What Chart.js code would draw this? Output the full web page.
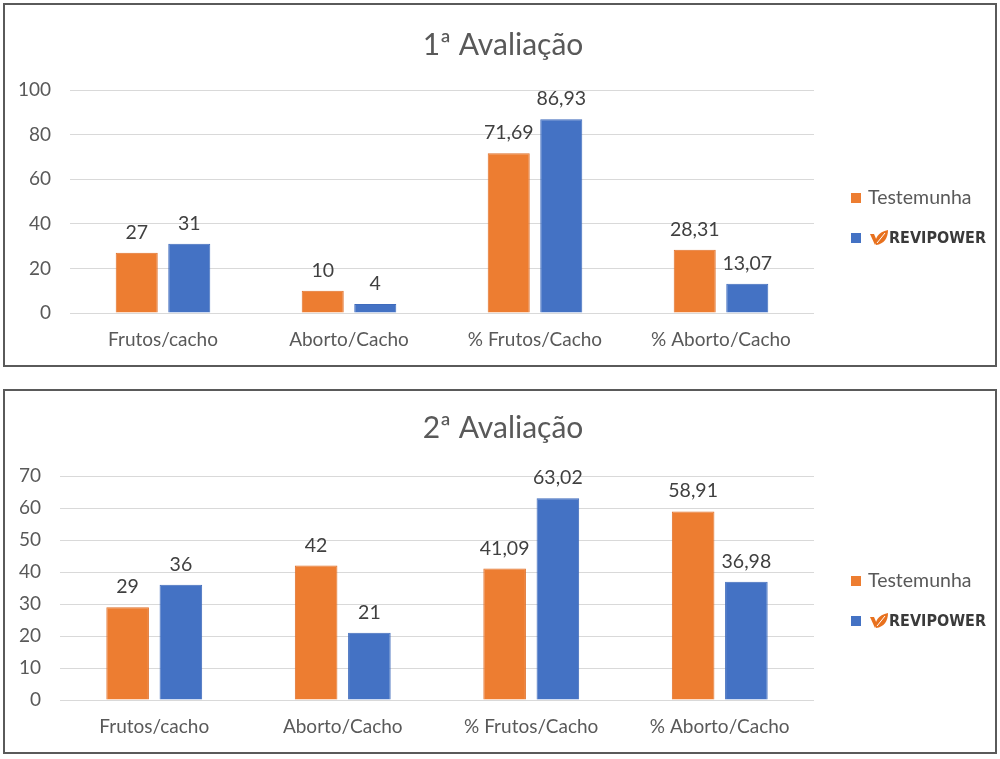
<!DOCTYPE html>
<html>
<head>
<meta charset="utf-8">
<script src="https://cdn.jsdelivr.net/npm/chart.js@4"></script>
<style>
  html,body{margin:0;padding:0;background:#fff;}
  body{width:1000px;height:759px;position:relative;overflow:hidden;font-family:Lato,"Open Sans",sans-serif;}
  .box{position:absolute;left:3px;width:990px;border:2px solid #5a5a5a;background:#fff;}
  #b1{top:3px;height:360px;}
  #b2{top:389px;height:361px;}
  .box canvas{display:block;}
</style>
</head>
<body>
<div class="box" id="b1"><canvas id="c1"></canvas></div>
<div class="box" id="b2"><canvas id="c2"></canvas></div>
<script>
// ---- data ----
const categories = ["Frutos/cacho", "Aborto/Cacho", "% Frutos/Cacho", "% Aborto/Cacho"];
const seriesNames = ["Testemunha", "REVIPOWER"];
const title1 = "1ª Avaliação";
const testemunha1 = [27, 10, 71.69, 28.31];
const revipower1 = [31, 4, 86.93, 13.07];
const yTicks1 = [0, 20, 40, 60, 80, 100];
const title2 = "2ª Avaliação";
const testemunha2 = [29, 42, 41.09, 58.91];
const revipower2 = [36, 21, 63.02, 36.98];
const yTicks2 = [0, 10, 20, 30, 40, 50, 60, 70];

const ORANGE = "#ED7D31", BLUE = "#4472C4", TXT = "#595959", LBL = "#404040";
const FONT = "Lato, 'Open Sans', sans-serif";

function fmt(v){ return String(v).replace('.', ','); }

const valueLabels = {
  id: 'valueLabels',
  afterDatasetsDraw(chart){
    const ctx = chart.ctx;
    ctx.save();
    ctx.font = "19.5px " + FONT;
    ctx.fillStyle = LBL;
    ctx.textAlign = 'center';
    ctx.textBaseline = 'alphabetic';
    chart.data.datasets.forEach((ds, i) => {
      chart.getDatasetMeta(i).data.forEach((bar, j) => {
        ctx.fillText(fmt(ds.data[j]), bar.x, bar.y - 14);
      });
    });
    ctx.restore();
  }
};

const centeredTitle = {
  id: 'centeredTitle',
  afterDraw(chart, args, opts){
    const ctx = chart.ctx;
    ctx.save();
    ctx.font = "30px " + FONT;
    ctx.fillStyle = TXT;
    ctx.textAlign = 'center';
    ctx.textBaseline = 'middle';
    ctx.fillText(opts.text, chart.width / 2 + 3, opts.y);
    ctx.restore();
  }
};

function drawLeaf(ctx, x, y){
  ctx.save();
  ctx.fillStyle = "#E8711E";
  ctx.beginPath();
  ctx.moveTo(x, y - 4);
  ctx.lineTo(x + 4, y - 4);
  ctx.lineTo(x + 7, y + 3);
  ctx.lineTo(x + 5, y + 7);
  ctx.closePath();
  ctx.fill();
  ctx.beginPath();
  ctx.moveTo(x + 6, y + 7);
  ctx.bezierCurveTo(x + 4, y + 1, x + 8, y - 6, x + 18, y - 8);
  ctx.bezierCurveTo(x + 18, y, x + 14, y + 6, x + 6, y + 7);
  ctx.closePath();
  ctx.fill();
  ctx.strokeStyle = "#fff";
  ctx.lineWidth = 1;
  ctx.beginPath();
  ctx.moveTo(x + 7, y + 5);
  ctx.lineTo(x + 15, y - 5);
  ctx.stroke();
  ctx.restore();
}

const customLegend = {
  id: 'customLegend',
  afterDraw(chart, args, opts){
    const ctx = chart.ctx;
    const x0 = chart.chartArea.right + 37;
    const yc = opts.yCenter;
    chart.data.datasets.forEach((ds, i) => {
      const y = yc + (i === 0 ? -20 : 20);
      ctx.save();
      ctx.fillStyle = ds.backgroundColor;
      ctx.fillRect(x0, y - 5, 10, 10);
      if (i === 0) {
        ctx.font = "19.5px " + FONT;
        ctx.fillStyle = TXT;
        ctx.textBaseline = 'middle';
        ctx.fillText(ds.label, x0 + 17, y);
      } else {
        drawLeaf(ctx, x0 + 19, y);
        ctx.font = "bold 16px 'Liberation Sans Narrow', 'DejaVu Sans Condensed', sans-serif";
        ctx.fillStyle = "#3a3a3a";
        ctx.textBaseline = 'middle';
        ctx.fillText(ds.label, x0 + 38, y + 1);
      }
      ctx.restore();
    });
  }
};

function makeChart(id, title, a, b, ticks, yAxisWidth, titleY, legendY){
  const maxV = ticks[ticks.length - 1];
  const step = ticks[1] - ticks[0];
  return new Chart(document.getElementById(id), {
    type: 'bar',
    data: {
      labels: categories,
      datasets: [
        {label: seriesNames[0], data: a, backgroundColor: ORANGE, borderColor: "#E0702A", borderWidth: 1},
        {label: seriesNames[1], data: b, backgroundColor: BLUE, borderColor: "#3F6BBC", borderWidth: 1}
      ]
    },
    options: {
      responsive: true,
      maintainAspectRatio: false,
      animation: false,
      devicePixelRatio: 1,
      datasets: {bar: {categoryPercentage: 0.565, barPercentage: 0.8}},
      layout: {padding: {left: 0, right: 181, top: 85, bottom: 12}},
      plugins: {
        legend: {display: false},
        tooltip: {enabled: false},
        title: {display: false},
        centeredTitle: {text: title, y: titleY},
        customLegend: {yCenter: legendY}
      },
      scales: {
        x: {
          afterFit(scale){ scale.height = 40; },
          grid: {display: false, drawTicks: false},
          border: {display: false},
          ticks: {color: TXT, font: {family: FONT, size: 19}, padding: 15, maxRotation: 0}
        },
        y: {
          min: 0, max: maxV,
          afterFit(scale){ scale.width = yAxisWidth; },
          afterBuildTicks(scale){ scale.ticks = ticks.map(v => ({value: v})); },
          grid: {color: "#d9d9d9", lineWidth: 1, drawTicks: false},
          border: {display: false},
          ticks: {color: TXT, font: {family: FONT, size: 19}, padding: 19, stepSize: step}
        }
      }
    },
    plugins: [valueLabels, centeredTitle, customLegend]
  });
}

makeChart('c1', title1, testemunha1, revipower1, yTicks1, 65, 40, 213);
makeChart('c2', title2, testemunha2, revipower2, yTicks2, 55, 37, 210);
</script>
</body>
</html>
